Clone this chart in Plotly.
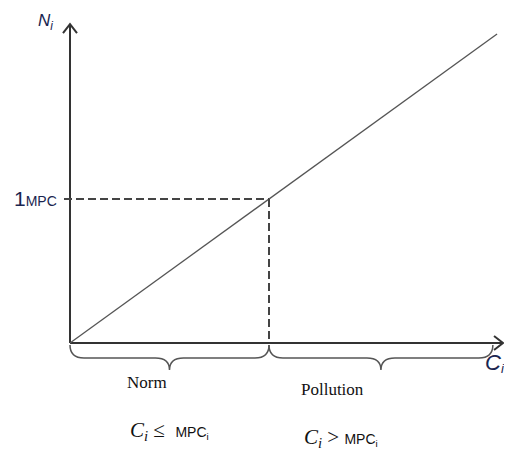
import plotly.graph_objects as go

# ---- data (MPC-normalised units) ----
mpc = 1.0
line_c = [0.0, 2.146]          # concentration C_i
line_n = [0.0, 2.146]          # index N_i = C_i / MPC
x_axis_end = 2.176
y_axis_end = 2.215
brace_norm = [0.0, mpc]
brace_poll = [mpc, 2.125]

# pixel scales (px per unit) used only for small decoration sizes
sx, sy = 199.0, 144.0
OFF = 8  # page body margin

AX = "#333333"
fig = go.Figure()

# axes
fig.add_trace(go.Scatter(x=[0, x_axis_end], y=[0, 0], mode="lines",
                         line=dict(color=AX, width=2), hoverinfo="skip"))
fig.add_trace(go.Scatter(x=[0, 0], y=[0, y_axis_end], mode="lines",
                         line=dict(color=AX, width=2), hoverinfo="skip"))
# open arrowheads
fig.add_trace(go.Scatter(x=[-7/sx, 0, 7/sx], y=[y_axis_end - 9/sy, y_axis_end, y_axis_end - 9/sy],
                         mode="lines", line=dict(color=AX, width=2), hoverinfo="skip"))
fig.add_trace(go.Scatter(x=[x_axis_end - 9/sx, x_axis_end, x_axis_end - 9/sx], y=[7/sy, 0, -7/sy],
                         mode="lines", line=dict(color=AX, width=2), hoverinfo="skip"))

# main line
fig.add_trace(go.Scatter(x=line_c, y=line_n, mode="lines",
                         line=dict(color="#555555", width=1.3), hoverinfo="skip"))

# dashed guides
fig.add_trace(go.Scatter(x=[-6/sx, mpc], y=[mpc, mpc], mode="lines",
                         line=dict(color="#444444", width=2, dash="8px,4px"), hoverinfo="skip"))
fig.add_trace(go.Scatter(x=[mpc, mpc], y=[mpc, 0], mode="lines",
                         line=dict(color="#444444", width=2, dash="8px,4px"), hoverinfo="skip"))

# braces
def brace(x0, x1):
    ym = -15/sy
    yt = -27/sy
    r = 14/sx
    xm = (x0 + x1) / 2
    return (f"M {x0},{-2/sy} Q {x0},{ym} {x0+r},{ym} L {xm-r},{ym} "
            f"Q {xm},{ym} {xm},{yt} Q {xm},{ym} {xm+r},{ym} "
            f"L {x1-r},{ym} Q {x1},{ym} {x1},{-2/sy}")

for b in (brace_norm, brace_poll):
    fig.add_shape(type="path", path=brace(*b), xref="x", yref="y",
                  line=dict(color="#555555", width=1.5))

navy = "#1a2550"
ann = [
    dict(x=-25/sx, y=321/sy, text="<i>N<sub>i</sub></i>",
         font=dict(family="Liberation Sans", size=17, color=navy)),
    dict(x=-11/sx, y=145/sy, xanchor="right",
         text="<span style='font-size:21px'>1</span>MPC",
         font=dict(family="Liberation Sans", size=14, color=navy)),
    dict(x=77/sx, y=-39/sy, text="Norm",
         font=dict(family="Liberation Serif", size=17, color="#111111")),
    dict(x=262/sx, y=-46/sy, text="Pollution",
         font=dict(family="Liberation Serif", size=17, color="#111111")),
    dict(x=423/sx, y=-19/sy, text="<i>C</i>",
         font=dict(family="Liberation Sans", size=22, color=navy)),
    dict(x=433/sx, y=-25/sy, text="<i>i</i>",
         font=dict(family="Liberation Sans", size=13, color=navy)),
    dict(x=58/sx, y=-88/sy, xanchor="left",
         text="<i>C<sub>i</sub></i> ≤  <span style='font-family:Liberation Sans;font-size:14px'>MPC<sub>i</sub></span>",
         font=dict(family="Liberation Serif", size=21, color="#111111")),
    dict(x=232/sx, y=-95/sy, xanchor="left",
         text="<i>C<sub>i</sub></i> > <span style='font-family:Liberation Sans;font-size:14px'>MPC<sub>i</sub></span>",
         font=dict(family="Liberation Serif", size=21, color="#111111")),
]
for a in ann:
    a.setdefault("xanchor", "center")
    fig.add_annotation(xref="x", yref="y", showarrow=False, yanchor="middle", **a)

fig.update_layout(
    width=512 - OFF, height=452 - OFF, margin=dict(l=0, r=0, t=0, b=0),
    paper_bgcolor="white", plot_bgcolor="white", showlegend=False,
    xaxis=dict(range=[(OFF - 70)/sx, 442/sx], visible=False, fixedrange=True),
    yaxis=dict(range=[-109/sy, (343 - OFF)/sy], visible=False, fixedrange=True),
)
fig.write_html("out.html")
